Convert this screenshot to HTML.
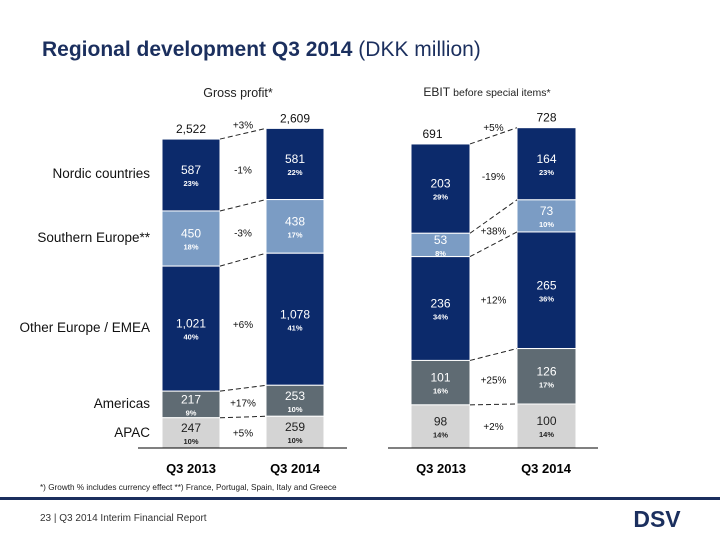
<!DOCTYPE html>
<html><head><meta charset="utf-8">
<style>
body{margin:0;background:#fff;}
#root{position:relative;width:720px;height:540px;overflow:hidden;font-family:"Liberation Sans",sans-serif;}
svg{position:absolute;left:0;top:0;}
</style></head>
<body>
<div id="root">
<svg id="chart" width="720" height="540">
  <text x="42" y="56" font-size="21" fill="#1b2f5e"><tspan font-weight="bold">Regional development Q3 2014</tspan> <tspan>(DKK million)</tspan></text>
  <text x="238" y="97" font-size="12.5" fill="#222" text-anchor="middle">Gross profit*</text>
  <text x="487" y="96" font-size="12" fill="#222" text-anchor="middle">EBIT <tspan font-size="10.5">before special items*</tspan></text>
  <g id="regions"></g>
  <g id="gp"></g>
  <g id="eb"></g>
  <line x1="138" y1="448" x2="347" y2="448" stroke="#000" stroke-width="1"/>
  <line x1="388" y1="448" x2="598" y2="448" stroke="#000" stroke-width="1"/>
  <text x="191" y="473" font-size="13" font-weight="bold" text-anchor="middle">Q3 2013</text>
  <text x="295" y="473" font-size="13" font-weight="bold" text-anchor="middle">Q3 2014</text>
  <text x="441" y="473" font-size="13" font-weight="bold" text-anchor="middle">Q3 2013</text>
  <text x="546" y="473" font-size="13" font-weight="bold" text-anchor="middle">Q3 2014</text>
  <text x="40" y="490" font-size="8.2" fill="#222">*) Growth % includes currency effect   **) France, Portugal, Spain, Italy and Greece</text>
  <rect x="0" y="497" width="720" height="3" fill="#1b2f5e"/>
  <text x="40" y="521" font-size="10" fill="#333">23 | Q3 2014 Interim Financial Report</text>
  <text x="657" y="527" font-size="23" font-weight="bold" fill="#1b2f5e" text-anchor="middle">DSV</text>
</svg>
</div>
<script>
const regions = ["Nordic countries","Southern Europe**","Other Europe / EMEA","Americas","APAC"];
const gp2013 = [587,450,1021,217,247];
const gp2014 = [581,438,1078,253,259];
const gpPct2013 = ["23%","18%","40%","9%","10%"];
const gpPct2014 = ["22%","17%","41%","10%","10%"];
const gpGrowth = ["-1%","-3%","+6%","+17%","+5%"];
const gpTotalGrowth = "+3%";
const eb2013 = [203,53,236,101,98];
const eb2014 = [164,73,265,126,100];
const ebPct2013 = ["29%","8%","34%","16%","14%"];
const ebPct2014 = ["23%","10%","36%","17%","14%"];
const ebGrowth = ["-19%","+38%","+12%","+25%","+2%"];
const ebTotalGrowth = "+5%";
const regionLabelY = [174,238,328,404,433];

const colors=["#0c2a6b","#7b9cc4","#5f6b73","#d4d4d4"];
const segColor=[colors[0],colors[1],colors[0],colors[2],colors[3]];
const textColor=["#fff","#fff","#fff","#fff","#222"];
const NS="http://www.w3.org/2000/svg";
const base=448;
function mk(tag,attrs,parent,txt){const e=document.createElementNS(NS,tag);for(const k in attrs)e.setAttribute(k,attrs[k]);if(txt!==undefined)e.textContent=txt;parent.appendChild(e);return e;}
function fmt(v){return v.toLocaleString("en-US");}

const rg=document.getElementById("regions");
regions.forEach((r,i)=>{
  const t=mk("text",{x:150,y:regionLabelY[i]+4,"font-size":13.5,"text-anchor":"end",fill:"#111"},rg,r);
  
  
});

function drawChart(g,v1,v2,p1,p2,gr,tg,scale,x1,x2,w,prefix,dx1,dx2){
  const y=v=>base-v*scale;
  function bar(vals,pcts,x,key,dx){
    let acc=0;
    const tops=new Array(vals.length);const bots=new Array(vals.length);
    for(let i=vals.length-1;i>=0;i--){bots[i]=y(acc);acc+=vals[i];tops[i]=y(acc);}
    for(let i=0;i<vals.length;i++){
      const r=mk("rect",{x:x,y:tops[i],width:w,height:bots[i]-tops[i],fill:segColor[i],stroke:"#fff","stroke-width":1},g);
      
      
      const m=(tops[i]+bots[i])/2;
      const t=mk("text",{x:x+w/2,y:m-1,"font-size":12,"text-anchor":"middle",fill:textColor[i]},g,fmt(vals[i]));
      
      
      const p=mk("text",{x:x+w/2,y:m+11,"font-size":7.5,"font-weight":"bold","text-anchor":"middle",fill:textColor[i]},g,pcts[i]);
      
      
    }
    const tt=mk("text",{x:x+w/2+dx,y:y(acc)-6,"font-size":12,"text-anchor":"middle",fill:"#111"},g,fmt(acc));
    
    
    return {tops,bots,total:acc};
  }
  const a=bar(v1,p1,x1,"2013",dx1),b=bar(v2,p2,x2,"2014",dx2);
  for(let i=0;i<v1.length;i++){
    const l=mk("line",{x1:x1+w,y1:a.tops[i],x2:x2,y2:b.tops[i],stroke:"#222","stroke-width":1,"stroke-dasharray":"5,3"},g);
    
    
    const my=((a.tops[i]+a.bots[i])/2+(b.tops[i]+b.bots[i])/2)/2;
    const t=mk("text",{x:(x1+w+x2)/2,y:my+4,"font-size":10,"text-anchor":"middle",fill:"#111"},g,gr[i]);
    
    
  }
  const t=mk("text",{x:(x1+w+x2)/2,y:(a.tops[0]+b.tops[0])/2-5,"font-size":10,"text-anchor":"middle",fill:"#111"},g,tg);
  
  
}
drawChart(document.getElementById("gp"),gp2013,gp2014,gpPct2013,gpPct2014,gpGrowth,gpTotalGrowth,0.1225,162,266,58,"gp",0,0);
drawChart(document.getElementById("eb"),eb2013,eb2014,ebPct2013,ebPct2014,ebGrowth,ebTotalGrowth,0.44,411,517,59,"ebit",-8,0);
</script>
</body></html>
